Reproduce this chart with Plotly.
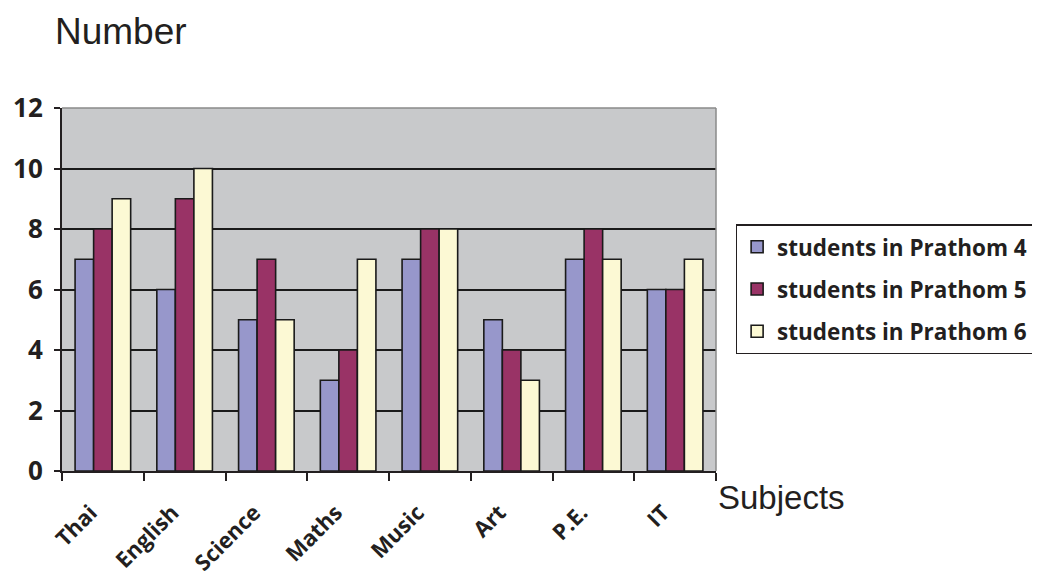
import plotly.graph_objects as go

subjects = ["Thai", "English", "Science", "Maths", "Music", "Art", "P.E.", "IT"]
prathom4 = [7, 6, 5, 3, 7, 5, 7, 6]
prathom5 = [8, 9, 7, 4, 8, 4, 8, 6]
prathom6 = [9, 10, 5, 7, 8, 3, 7, 7]

series = [
    ("students in Prathom 4", prathom4, "#9797CB"),
    ("students in Prathom 5", prathom5, "#993366"),
    ("students in Prathom 6", prathom6, "#FCF9D4"),
]

fig = go.Figure()
for name, vals, col in series:
    fig.add_trace(go.Bar(
        x=subjects, y=vals, name=name, legendgroup=name,
        marker=dict(color=col, line=dict(color="#1a1a1a", width=1.6)),
    ))

# page has an 8px body margin, so the figure is 8px smaller than the window
fig.update_layout(
    width=1032, height=568,
    margin=dict(l=54, r=324, t=100, b=105, autoexpand=False),
    paper_bgcolor="white",
    plot_bgcolor="#C8C9CB",
    barmode="group",
    bargap=0.32,
    bargroupgap=0,
    font=dict(family="Open Sans", color="#231F20"),
    legend=dict(
        x=1.03, y=0.68, xanchor="left", yanchor="top",
        bordercolor="#231F20", borderwidth=1.5,
        font=dict(size=22.5, family="Open Sans", weight="bold"),
        tracegroupgap=10,
    ),
)

# trailing no-break spaces push the slanted labels down-left like the original
fig.update_xaxes(
    type="category", tickson="boundaries", automargin=False,
    tickvals=subjects, ticktext=[s + "\u00a0\u00a0\u00a0" for s in subjects],
    showline=True, linecolor="#231F20", linewidth=2,
    ticks="outside", ticklen=8, tickwidth=2, tickcolor="#231F20",
    tickangle=-45, ticklabelstandoff=6,
    tickfont=dict(size=22, family="Open Sans", weight="bold"),
    showgrid=False,
)
fig.update_yaxes(
    range=[0, 12], dtick=2, automargin=False,
    showline=True, linecolor="#231F20", linewidth=2,
    ticks="outside", ticklen=6, tickwidth=2, tickcolor="#231F20",
    ticklabelstandoff=6,
    tickfont=dict(size=26, family="Open Sans", weight="bold"),
    showgrid=True, gridcolor="#1a1a1a", gridwidth=2,
    zeroline=False,
)

# thin grey frame on top and right of plot area
fig.add_shape(type="line", xref="paper", yref="paper", x0=0, x1=1, y0=1, y1=1,
              line=dict(color="#8A8A8A", width=1.5))
fig.add_shape(type="line", xref="paper", yref="paper", x0=1, x1=1, y0=0, y1=1,
              line=dict(color="#8A8A8A", width=1.5))

fig.add_annotation(text="Number", xref="paper", yref="paper", x=-0.013, y=1.21,
                   xanchor="left", yanchor="middle", showarrow=False,
                   font=dict(family="Liberation Sans", size=37, color="#231F20"))
fig.add_annotation(text="Subjects", xref="paper", yref="paper", x=1.0, y=-0.072,
                   xanchor="left", yanchor="middle", showarrow=False,
                   font=dict(family="Liberation Sans", size=33, color="#231F20"))

fig.write_html("out.html")
